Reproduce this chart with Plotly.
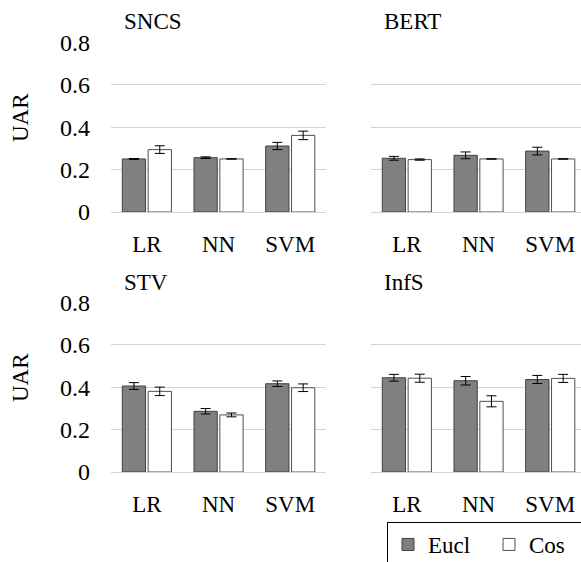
import plotly.graph_objects as go

models = ["LR", "NN", "SVM"]
panels = ["SNCS", "BERT", "STV", "InfS"]

eucl_vals = {
    "SNCS": [0.250, 0.256, 0.311],
    "BERT": [0.253, 0.267, 0.287],
    "STV": [0.405, 0.286, 0.416],
    "InfS": [0.444, 0.430, 0.436],
}
eucl_err = {
    "SNCS": [0.002, 0.004, 0.017],
    "BERT": [0.009, 0.016, 0.018],
    "STV": [0.016, 0.013, 0.013],
    "InfS": [0.016, 0.020, 0.019],
}
cos_vals = {
    "SNCS": [0.294, 0.250, 0.361],
    "BERT": [0.247, 0.250, 0.250],
    "STV": [0.380, 0.269, 0.397],
    "InfS": [0.442, 0.333, 0.441],
}
cos_err = {
    "SNCS": [0.018, 0.001, 0.020],
    "BERT": [0.003, 0.001, 0.001],
    "STV": [0.020, 0.009, 0.018],
    "InfS": [0.019, 0.026, 0.019],
}
y_ticks = [0, 0.2, 0.4, 0.6, 0.8]
y_ticklabels = ["0", "0.2", "0.4", "0.6", "0.8"]
y_title = "UAR"

W, H = 581, 562
FONT = "Liberation Serif"
FS = 23

fig = go.Figure()

# pixel geometry
CAT = 71.7  # px per category
xdoms = [(111, 326), (371, 581)]
ydoms = [(42, 212), (302, 472)]  # top px (0.8), bottom px (0)

for i, p in enumerate(panels):
    ax = "" if i == 0 else str(i + 1)
    fig.add_trace(go.Bar(
        x=models, y=eucl_vals[p], name="Eucl",
        marker=dict(color="#808080", line=dict(color="#404040", width=1)),
        error_y=dict(type="data", array=eucl_err[p], color="black", thickness=1, width=5),
        xaxis="x" + ax, yaxis="y" + ax, showlegend=(i == 0), legendgroup="Eucl",
    ))
    fig.add_trace(go.Bar(
        x=models, y=cos_vals[p], name="Cos",
        marker=dict(color="white", line=dict(color="#505050", width=1)),
        error_y=dict(type="data", array=cos_err[p], color="black", thickness=1, width=5),
        xaxis="x" + ax, yaxis="y" + ax, showlegend=(i == 0), legendgroup="Cos",
    ))

layout = dict(
    width=W, height=H,
    margin=dict(l=0, r=0, t=0, b=0, autoexpand=False),
    paper_bgcolor="white", plot_bgcolor="white",
    barmode="group", bargap=0.279, bargroupgap=0.1,
    font=dict(family=FONT, size=FS, color="black"),
    showlegend=True,
    legend=dict(orientation="h", x=387 / W, xanchor="left", y=(H - 522) / H, yanchor="top",
                bordercolor="black", borderwidth=1, bgcolor="white",
                font=dict(family=FONT, size=FS, color="black"), entrywidth=56, entrywidthmode="pixels",
                traceorder="normal", itemwidth=30),
)

annotations = []
for i, p in enumerate(panels):
    col = i % 2
    row = i // 2
    ax = "" if i == 0 else str(i + 1)
    xd = xdoms[col]
    yd = ydoms[row]
    layout["xaxis" + ax] = dict(
        domain=[xd[0] / W, xd[1] / W], anchor="y" + ax,
        range=[-0.5, -0.5 + (xd[1] - xd[0]) / CAT],
        showgrid=False, showline=False, zeroline=False, ticks="",
        tickfont=dict(family=FONT, size=FS, color="black"), ticklabelstandoff=16,
    )
    layout["yaxis" + ax] = dict(
        domain=[(H - yd[1]) / H, (H - yd[0]) / H], anchor="x" + ax,
        range=[0, 0.801], tickvals=y_ticks, ticktext=y_ticklabels,
        showticklabels=(col == 0), showgrid=True, gridcolor="#d3d3d3", gridwidth=1,
        zeroline=True, zerolinecolor="#d3d3d3", zerolinewidth=1, showline=False, ticks="",
        tickfont=dict(family=FONT, size=24, color="black"), ticklabelstandoff=20,
    )
    if col == 0:
        annotations.append(dict(
            text=y_title, xref="paper", yref="paper", x=20 / W, y=(H - (117 if row == 0 else 377)) / H,
            xanchor="center", yanchor="middle", textangle=-90, showarrow=False,
            font=dict(family=FONT, size=FS, color="black"),
        ))
    annotations.append(dict(
        text=p, xref="paper", yref="paper", x=(xd[0] + 11) / W, y=(H - 22 - (0 if row == 0 else 260)) / H,
        xanchor="left", yanchor="middle", showarrow=False, font=dict(family=FONT, size=FS, color="black"),
    ))
layout["annotations"] = annotations
fig.update_layout(**layout)

fig.write_html("out.html", config={"displayModeBar": False},
               post_script="document.body.style.margin='0';")
